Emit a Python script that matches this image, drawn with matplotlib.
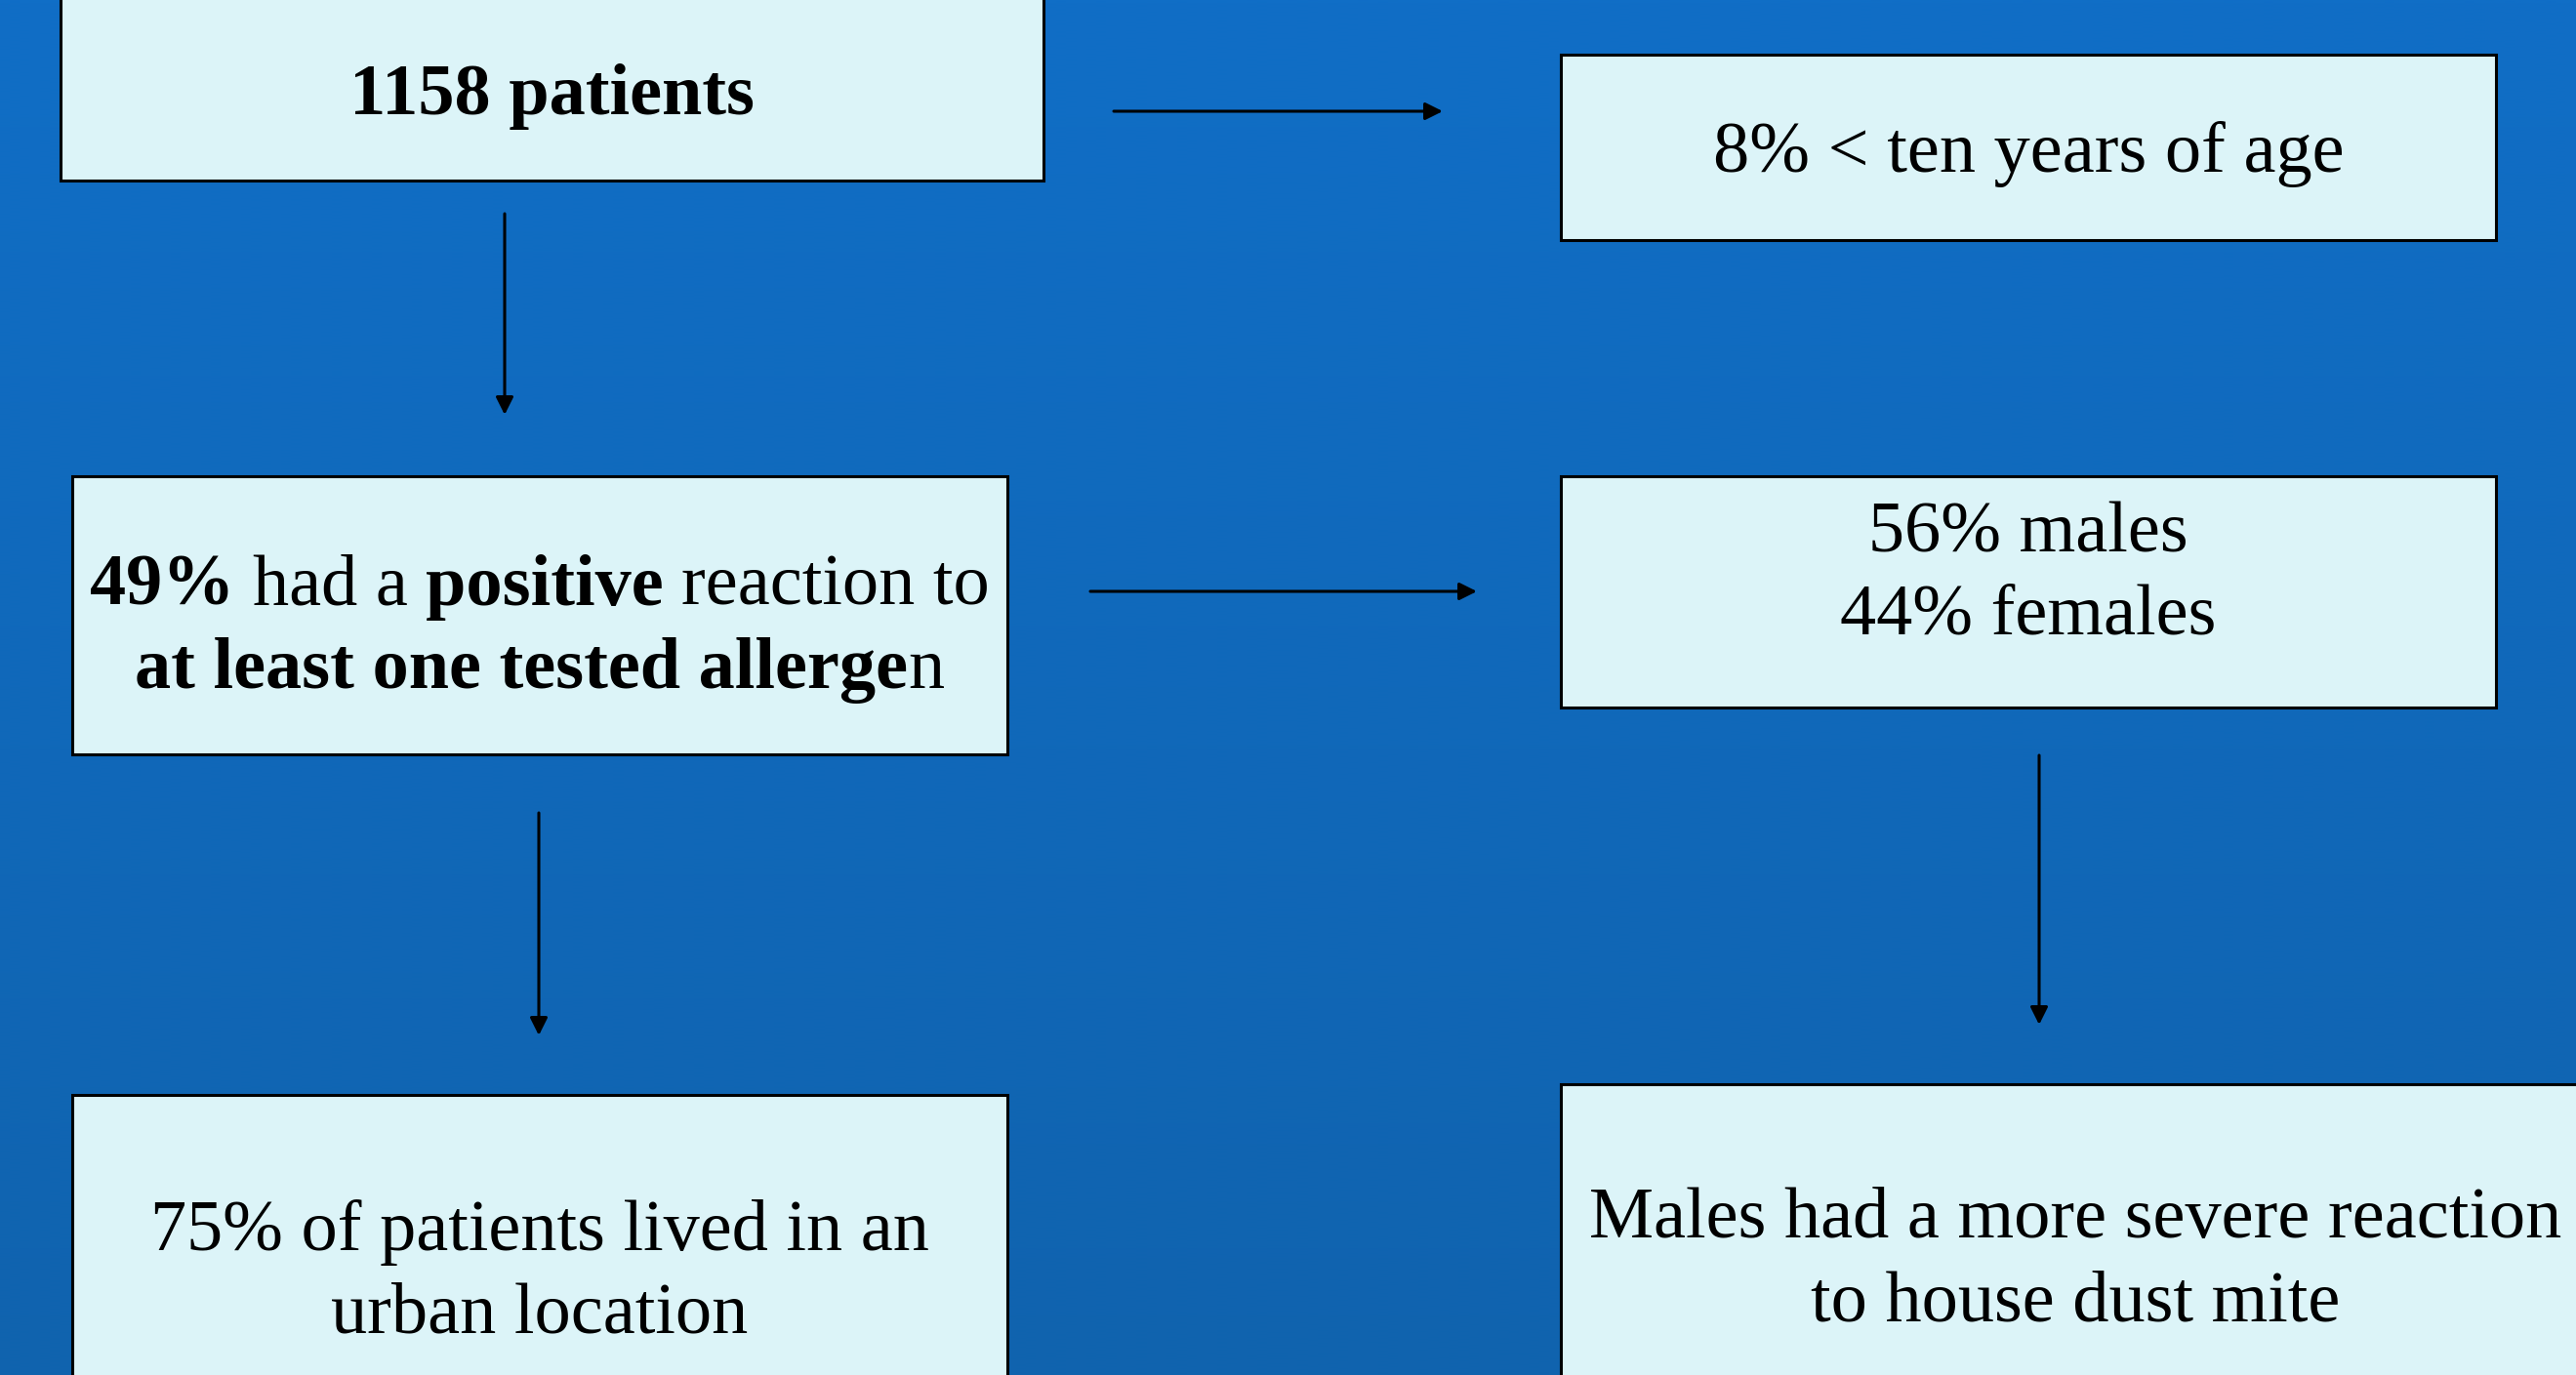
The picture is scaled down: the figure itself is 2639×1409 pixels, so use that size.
import matplotlib
matplotlib.use('Agg')
import matplotlib.pyplot as plt
import numpy as np
from matplotlib.patches import Rectangle

# ---------------- data (texts) ----------------
total_text = [[("1158 patients", True)]]
age_text = [[("8% < ten years of age", False)]]
positive_text = [
    [("49% ", True), ("had a ", False), ("positive ", True), ("reaction to", False)],
    [("at least one tested allerge", True), ("n", False)],
]
sex_text = [[("56% males", False)], [("44% females", False)]]
urban_text = [[("75% of patients lived in an", False)], [("urban location", False)]]
mite_text = [[("Males had a more severe reaction", False)], [("to house dust mite", False)]]

# ---------------- layout ----------------
W, H = 2639, 1409
DPI = 100
FS = 53.5
FONT = ['Liberation Serif', 'DejaVu Serif']

fig = plt.figure(figsize=(W / DPI, H / DPI), dpi=DPI)
ax = fig.add_axes([0, 0, 1, 1])
ax.set_xlim(0, W)
ax.set_ylim(H, 0)
ax.axis('off')

# background gradient
top = np.array([16, 110, 198]) / 255
bot = np.array([16, 99, 174]) / 255
t = np.linspace(0, 1, 256)[:, None]
grad = (top[None, :] * (1 - t) + bot[None, :] * t)[:, None, :]
ax.imshow(grad, extent=[0, W, H, 0], aspect='auto', zorder=0, interpolation='bilinear')

BOX_FC = '#dcf4f8'

# boxes: (x0, y0, x1, y1, text lines, center x, baselines)
boxes = [
    (62, -10, 1069, 185, total_text, 565, [117]),
    (1599, 56, 2557, 246, age_text, 2078, [176]),
    (74, 488, 1032, 773, positive_text, 553, [620, 705]),
    (1599, 488, 2557, 725, sex_text, 2078, [565, 650]),
    (74, 1122, 1032, 1430, urban_text, 553, [1281, 1366]),
    (1599, 1111, 2680, 1430, mite_text, 2126, [1268, 1354]),
]

arrows = [
    ((1141, 114), (1478, 114)),
    ((517, 219), (517, 425)),
    ((1117, 606), (1513, 606)),
    ((552, 833), (552, 1061)),
    ((2089, 774), (2089, 1050)),
]

for x0, y0, x1, y1, *_ in boxes:
    ax.add_patch(Rectangle((x0, y0), x1 - x0, y1 - y0, facecolor=BOX_FC,
                           edgecolor='black', linewidth=2.2, zorder=2))

for (sx, sy), (ex, ey) in arrows:
    ax.annotate('', xy=(ex, ey), xytext=(sx, sy),
                arrowprops=dict(arrowstyle='-|>', lw=2.2, color='black',
                                mutation_scale=27, shrinkA=0, shrinkB=0),
                zorder=3)

fig.canvas.draw()
renderer = fig.canvas.get_renderer()


def text_width(s, bold):
    w = 'bold' if bold else 'normal'
    t1 = ax.text(0, 0, s + '|', family=FONT, fontsize=FS, weight=w)
    t2 = ax.text(0, 0, '|', family=FONT, fontsize=FS, weight=w)
    e1 = t1.get_window_extent(renderer)
    e2 = t2.get_window_extent(renderer)
    t1.remove(); t2.remove()
    return (e1.width - e2.width)  # pixels == data units here


for x0, y0, x1, y1, lines, cx, baselines in boxes:
    for segs, yb in zip(lines, baselines):
        widths = [text_width(s, b) for s, b in segs]
        total = sum(widths)
        x = cx - total / 2
        for (s, b), w in zip(segs, widths):
            ax.text(x, yb, s, family=FONT, fontsize=FS,
                    weight='bold' if b else 'normal',
                    ha='left', va='baseline', color='black', zorder=4)
            x += w

fig.savefig('out.png', dpi=DPI)
